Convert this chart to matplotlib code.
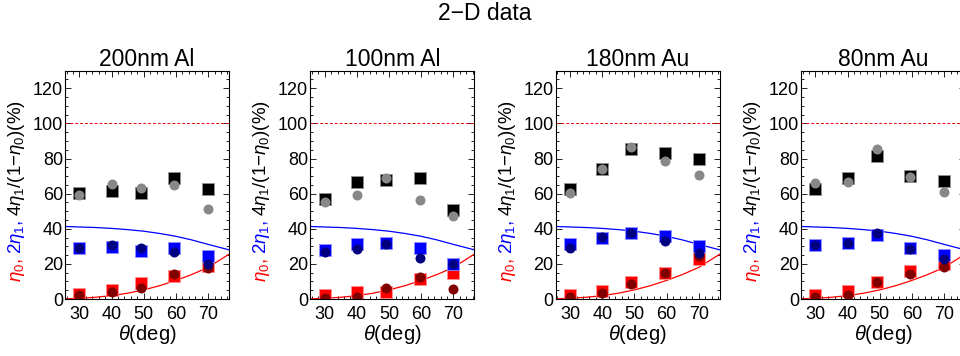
import matplotlib
matplotlib.use("Agg")
import matplotlib.pyplot as plt
from matplotlib.ticker import MultipleLocator

plt.rcParams['font.family'] = ['Liberation Sans', 'DejaVu Sans']
plt.rcParams['mathtext.fontset'] = 'custom'
plt.rcParams['mathtext.rm'] = 'Liberation Sans'
plt.rcParams['mathtext.it'] = 'Liberation Sans:italic'

# sample names and incidence angles (deg)
samples = ['200nm Al', '100nm Al', '180nm Au', '80nm Au']
theta = [30, 40, 49, 59.5, 70]

# 4*eta1/(1-eta0) (%), squares and circles, one row per sample
sq_norm = [[60.6, 61.6, 60.6, 68.7, 62.9],
           [57.1, 66.4, 67.8, 68.7, 50.9],
           [62.9, 73.8, 85.2, 82.9, 79.9],
           [62.9, 68.8, 81.2, 70.0, 67.1]]
ci_norm = [[59.2, 65.4, 63.1, 65.0, 51.3],
           [55.1, 59.2, 69.0, 56.3, 47.0],
           [60.3, 74.3, 86.5, 78.7, 70.5],
           [66.2, 66.4, 85.2, 69.2, 60.8]]

# 2*eta1 (%)
sq_2eta1 = [[28.8, 29.5, 27.2, 29.1, 24.7],
            [27.8, 31.1, 31.8, 29.1, 19.8],
            [31.2, 35.0, 37.5, 35.7, 30.4],
            [30.8, 32.1, 36.3, 28.9, 24.9]]
ci_2eta1 = [[28.8, 30.5, 28.9, 27.0, 19.8],
            [26.8, 28.2, 31.5, 23.2, 19.8],
            [28.9, 35.4, 37.6, 32.8, 26.0],
            [30.8, 32.1, 37.5, 28.7, 23.0]]

# eta0 (%)
sq_eta0 = [[3.0, 5.0, 9.0, 13.2, 19.0],
           [2.0, 4.0, 4.0, 11.5, 15.0],
           [2.5, 4.8, 9.4, 14.6, 23.0],
           [2.5, 4.6, 9.9, 15.9, 20.2]]
ci_eta0 = [[2.0, 4.2, 6.5, 14.4, 17.8],
           [0.8, 1.2, 6.0, 12.8, 5.5],
           [1.1, 3.4, 8.7, 14.8, 24.5],
           [1.1, 2.4, 9.7, 14.4, 18.3]]

# theory curves
curve_theta = [25.5, 30, 35, 40, 45, 50, 55, 60, 65, 70, 76.5]
curve_2eta1 = [41.3, 41.0, 40.7, 40.2, 39.5, 38.6, 37.3, 35.7, 33.6, 31.1, 28.0]
curve_eta0 = [0.1, 0.4, 1.0, 1.9, 3.3, 5.2, 7.6, 10.6, 14.0, 18.0, 25.5]

ylabel_parts = [(r'$\eta_0$,', 'red'),
                (r'$2\eta_1$,', 'blue'),
                (r'$4\eta_1$/(1−$\eta_0$)(%)', 'black')]

W, H = 960, 356
fig = plt.figure(figsize=(W / 100, H / 100), dpi=100)

ax_left_px = [65, 310.3, 555.7, 801]
ax_w_px, ax_bot_px, ax_h_px = 164, 57, 228.3

axes = []
for i, name in enumerate(samples):
    ax = fig.add_axes([ax_left_px[i] / W, ax_bot_px / H, ax_w_px / W, ax_h_px / H])
    axes.append(ax)

    ax.axhline(100, color='#ee0000', lw=0.7, ls=(0, (3, 2)))
    ax.plot(curve_theta, curve_2eta1, color='blue', lw=0.9)
    ax.plot(curve_theta, curve_eta0, color='red', lw=0.9)

    ms_sq, ms_ci = 8.4, 7.2
    ax.plot(theta, sq_eta0[i], 's', color='red', mec='#ff9090', mew=0.6, ms=ms_sq)
    ax.plot(theta, sq_2eta1[i], 's', color='blue', mec='#9090ff', mew=0.6, ms=ms_sq)
    ax.plot(theta, sq_norm[i], 's', color='black', mec='#909090', mew=0.6, ms=ms_sq)
    ax.plot(theta, ci_eta0[i], 'o', color='#800000', mew=0, ms=ms_ci)
    ax.plot(theta, ci_2eta1[i], 'o', color='#000080', mew=0, ms=ms_ci)
    ax.plot(theta, ci_norm[i], 'o', color='#888888', mew=0, ms=ms_ci)

    ax.set_xlim(25.5, 76.5)
    ax.set_ylim(0, 130)
    ax.xaxis.set_major_locator(MultipleLocator(10))
    ax.xaxis.set_minor_locator(MultipleLocator(2))
    ax.yaxis.set_major_locator(MultipleLocator(20))
    ax.yaxis.set_minor_locator(MultipleLocator(5))
    ax.tick_params(which='both', direction='in', top=True, right=True,
                   labelsize=13, width=0.7, color='#222222')
    ax.tick_params(which='major', length=4)
    ax.tick_params(which='minor', length=2)
    ax.tick_params(axis='x', which='major', pad=5)
    ax.tick_params(axis='y', which='major', pad=1.5)
    for sp in ax.spines.values():
        sp.set_linewidth(0.8)
    ax.set_title(name, fontsize=16.5, pad=2)
    ax.set_xlabel(r'$\theta$(deg)', fontsize=14.5, labelpad=0)

fig.text(485 / W, 1 - 14 / H, '2−D data', fontsize=16.5, ha='center', va='center')

# multi-coloured vertical y label, built piece by piece
renderer = fig.canvas.get_renderer()
gap = 4
for i, ax in enumerate(axes):
    x_base = ax_left_px[i] - 44
    y_center = ax_bot_px + ax_h_px / 2 - 6
    texts = []
    for s, c in ylabel_parts:
        t = fig.text(0, 0, s, color=c, fontsize=13.5, rotation=90,
                     rotation_mode='anchor', ha='left', va='baseline',
                     transform=None)
        texts.append(t)
    lengths = [t.get_window_extent(renderer).height for t in texts]
    total = sum(lengths) + gap * (len(texts) - 1)
    y = y_center - total / 2
    for t, L in zip(texts, lengths):
        t.set_position((x_base, y))
        y += L + gap

fig.savefig('out.png', dpi=100)
